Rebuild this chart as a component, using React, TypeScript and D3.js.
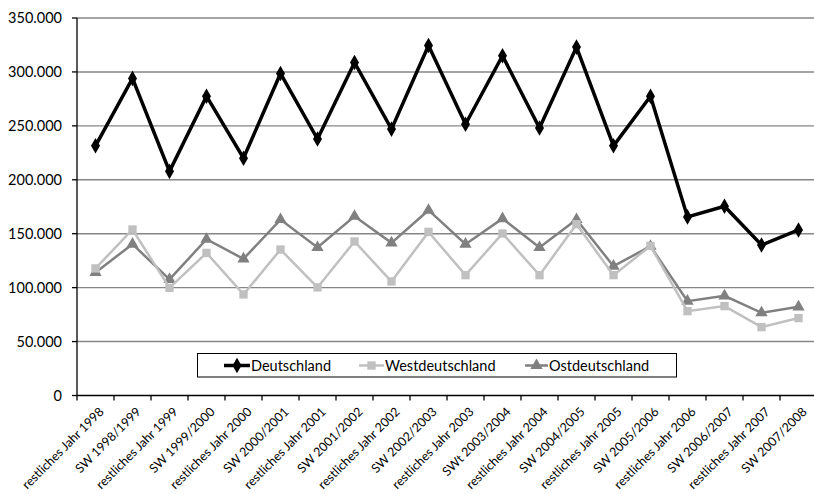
import React, { useEffect, useRef } from "react";
import * as d3 from "d3";

const categories = [
  "restliches Jahr 1998", "SW 1998/1999", "restliches Jahr 1999", "SW 1999/2000",
  "restliches Jahr 2000", "SW 2000/2001", "restliches Jahr 2001", "SW 2001/2002",
  "restliches Jahr 2002", "SW 2002/2003", "restliches Jahr 2003", "SWt 2003/2004",
  "restliches Jahr 2004", "SW 2004/2005", "restliches Jahr 2005", "SW 2005/2006",
  "restliches Jahr 2006", "SW 2006/2007", "restliches Jahr 2007", "SW 2007/2008",
];

const deutschland = [
  231500, 294000, 207800, 277500, 220000, 298600, 237800, 308800, 247000, 324500,
  251500, 315000, 248000, 323000, 231500, 277500, 165600, 175500, 139500, 153500,
];
const westdeutschland = [
  117800, 153900, 99800, 132200, 93700, 135300, 100200, 142800, 105700, 151700,
  111600, 150200, 111600, 158800, 111600, 138700, 78200, 82900, 63400, 71800,
];
const ostdeutschland = [
  114100, 140300, 107600, 144900, 126700, 163100, 137200, 166200, 141500, 171800,
  140300, 164000, 137200, 163100, 119900, 138400, 87500, 92400, 76700, 82200,
];

const yTicks = [0, 50000, 100000, 150000, 200000, 250000, 300000, 350000];
const seriesNames = ["Deutschland", "Westdeutschland", "Ostdeutschland"];

const W = 814;
const H = 494;
const FONT = "Lato, 'DejaVu Sans', sans-serif";

export default function App() {
  const ref = useRef<SVGSVGElement | null>(null);

  useEffect(() => {
    const svg = d3.select(ref.current);
    svg.selectAll("*").remove();

    const left = 77;
    const step = 37;
    const top = 18;
    const bottom = 395.5;

    const x = d3.scaleBand<string>().domain(categories).range([left, left + step * categories.length]).padding(0);
    const y = d3.scaleLinear().domain([0, 350000]).range([bottom, top]);
    const cx = (c: string) => (x(c) as number) + x.bandwidth() / 2;

    const fmt = (v: number) => (v === 0 ? "0" : d3.format(",")(v).replace(/,/g, "."));

    // gridlines
    svg.append("g")
      .selectAll("line")
      .data(yTicks.filter((t) => t > 0))
      .join("line")
      .attr("x1", left)
      .attr("x2", left + step * categories.length)
      .attr("y1", (d) => y(d))
      .attr("y2", (d) => y(d))
      .attr("stroke", "#868686")
      .attr("stroke-width", 1.4);

    // y axis
    const yAxis = svg.append("g");
    yAxis.append("line").attr("x1", left).attr("x2", left).attr("y1", top).attr("y2", bottom).attr("stroke", "#000").attr("stroke-width", 1.3);
    yAxis.selectAll("line.tick").data(yTicks).join("line").attr("class", "tick")
      .attr("x1", left - 5).attr("x2", left).attr("y1", (d) => y(d)).attr("y2", (d) => y(d))
      .attr("stroke", "#000").attr("stroke-width", 1.3);
    yAxis.selectAll("text").data(yTicks).join("text")
      .attr("x", 62).attr("y", (d) => y(d)).attr("dy", "0.35em")
      .attr("text-anchor", "end").attr("font-family", FONT).attr("font-size", 14.5).attr("fill", "#000")
      .text((d) => fmt(d));

    // x axis
    const xAxis = svg.append("g");
    xAxis.append("line").attr("x1", left).attr("x2", left + step * categories.length).attr("y1", bottom).attr("y2", bottom).attr("stroke", "#000").attr("stroke-width", 1.3);
    xAxis.selectAll("line.tick").data(d3.range(categories.length + 1)).join("line").attr("class", "tick")
      .attr("x1", (i) => left + i * step).attr("x2", (i) => left + i * step)
      .attr("y1", bottom).attr("y2", bottom + 5).attr("stroke", "#000").attr("stroke-width", 1.3);
    xAxis.selectAll("text").data(categories).join("text")
      .attr("transform", (c) => `translate(${cx(c) + 6},${bottom + 14}) rotate(-45)`)
      .attr("text-anchor", "end").attr("dy", "0.35em")
      .attr("font-family", FONT).attr("font-size", 12.5).attr("fill", "#000")
      .text((c) => c);

    const series = [
      { name: seriesNames[0], data: deutschland, color: "#000000", width: 3.5, sym: d3.symbolDiamond, size: 70 },
      { name: seriesNames[1], data: westdeutschland, color: "#c0c0c0", width: 2.5, sym: d3.symbolSquare, size: 70 },
      { name: seriesNames[2], data: ostdeutschland, color: "#808080", width: 2.5, sym: d3.symbolTriangle, size: 65 },
    ];

    const line = d3.line<number>().x((_, i) => cx(categories[i])).y((d) => y(d));

    [series[2], series[1], series[0]].forEach((s) => {
      const g = svg.append("g");
      g.append("path").attr("d", line(s.data) as string).attr("fill", "none")
        .attr("stroke", s.color).attr("stroke-width", s.width).attr("stroke-linejoin", "miter");
      g.selectAll("path.m").data(s.data).join("path").attr("class", "m")
        .attr("transform", (d, i) => `translate(${cx(categories[i])},${y(d)})`)
        .attr("d", d3.symbol().type(s.sym).size(s.size)() as string)
        .attr("fill", s.color);
    });

    // legend
    const lg = svg.append("g");
    lg.append("rect").attr("x", 197.5).attr("y", 353.5).attr("width", 479).attr("height", 23.5)
      .attr("fill", "#fff").attr("stroke", "#000").attr("stroke-width", 1);
    const legendPos = [
      { lx1: 224, lx2: 250, tx: 251 },
      { lx1: 359, lx2: 384, tx: 385 },
      { lx1: 525, lx2: 548, tx: 549 },
    ];
    series.forEach((s, i) => {
      const p = legendPos[i];
      const ly = 365.5;
      lg.append("line").attr("x1", p.lx1).attr("x2", p.lx2).attr("y1", ly).attr("y2", ly)
        .attr("stroke", s.color).attr("stroke-width", s.width);
      lg.append("path").attr("transform", `translate(${(p.lx1 + p.lx2) / 2},${ly})`)
        .attr("d", d3.symbol().type(s.sym).size(s.size)() as string).attr("fill", s.color);
      lg.append("text").attr("x", p.tx).attr("y", ly).attr("dy", "0.35em")
        .attr("font-family", FONT).attr("font-size", 14.5).attr("fill", "#000").text(s.name);
    });
  }, []);

  return (
    <svg
      ref={ref}
      width={W}
      height={H}
      style={{ position: "absolute", left: 0, top: 0, background: "#fff", display: "block" }}
    />
  );
}
